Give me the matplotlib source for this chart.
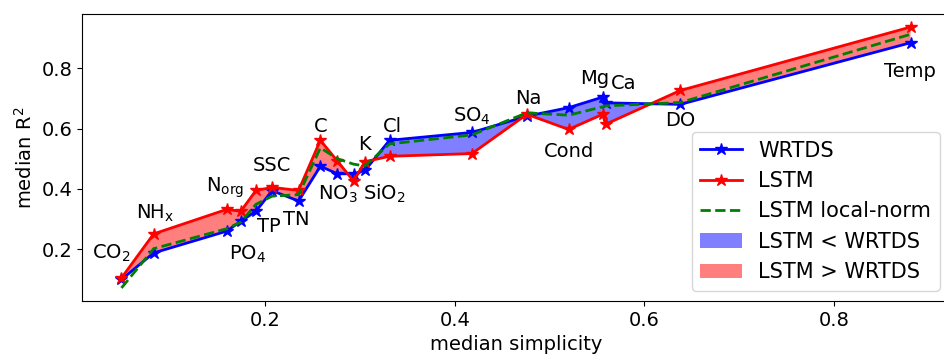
import matplotlib
matplotlib.use('Agg')
import matplotlib.pyplot as plt
import numpy as np

# median simplicity of each constituent (sorted)
simplicity = [0.048, 0.082, 0.159, 0.174, 0.190, 0.207, 0.235, 0.258, 0.276,
              0.293, 0.305, 0.331, 0.418, 0.476, 0.520, 0.556, 0.559, 0.638, 0.881]

# median R2 per model
r2_wrtds = [0.100, 0.188, 0.260, 0.293, 0.326, 0.394, 0.360, 0.475, 0.450,
            0.450, 0.461, 0.561, 0.587, 0.641, 0.669, 0.704, 0.685, 0.680, 0.884]
r2_lstm = [0.105, 0.251, 0.332, 0.326, 0.395, 0.405, 0.395, 0.561, 0.492,
           0.426, 0.490, 0.508, 0.517, 0.647, 0.597, 0.647, 0.614, 0.726, 0.936]
r2_local = [0.072, 0.202, 0.268, 0.290, 0.349, 0.376, 0.381, 0.536, 0.500,
            0.482, 0.476, 0.549, 0.579, 0.652, 0.644, 0.672, 0.675, 0.686, 0.912]

# constituent labels and where they are written
codes = ['CO$_2$', 'NH$_\\mathrm{x}$', 'N$_\\mathrm{org}$', 'PO$_4$', 'TP', 'SSC', 'TN',
         'C', 'NO$_3$', 'K', 'SiO$_2$', 'Cl', 'SO$_4$', 'Na', 'Cond', 'Mg', 'Ca', 'DO', 'Temp']
label_x = [0.037, 0.084, 0.157, 0.181, 0.204, 0.207, 0.233, 0.258, 0.276, 0.304,
           0.325, 0.334, 0.418, 0.478, 0.520, 0.548, 0.578, 0.638, 0.880]
label_y = [0.187, 0.319, 0.405, 0.183, 0.276, 0.479, 0.300, 0.608, 0.382, 0.548,
           0.382, 0.608, 0.641, 0.700, 0.525, 0.767, 0.750, 0.625, 0.790]

plt.rcParams['font.size'] = 14

x = np.array(simplicity)
yw = np.array(r2_wrtds)
yl = np.array(r2_lstm)

fig = plt.figure(figsize=(9.44, 3.61), dpi=100)
# right spine sits just past the figure edge
ax = fig.add_axes([82 / 944, 60 / 361, 868 / 944, 287 / 361])

ax.plot(x, yw, '-*', color='blue', lw=2, ms=9, label='WRTDS')
ax.plot(x, yl, '-*', color='red', lw=2, ms=9, label='LSTM')
ax.plot(x, r2_local, '--', color='green', lw=2, label='LSTM local-norm')
ax.fill_between(x, yw, yl, where=yl < yw, interpolate=True,
                color='blue', alpha=0.5, lw=0, label='LSTM < WRTDS')
ax.fill_between(x, yw, yl, where=yl > yw, interpolate=True,
                color='red', alpha=0.5, lw=0, label='LSTM > WRTDS')

for t, tx, ty in zip(codes, label_x, label_y):
    ax.text(tx, ty, t, ha='center', va='center', fontsize=14)

ax.set_xlabel('median simplicity')
ax.set_ylabel('median R$^2$')
ax.set_xticks([0.2, 0.4, 0.6, 0.8])
ax.set_yticks([0.2, 0.4, 0.6, 0.8])
ax.legend(loc='lower right', fontsize=15)

fig.savefig('out.png', dpi=100)
